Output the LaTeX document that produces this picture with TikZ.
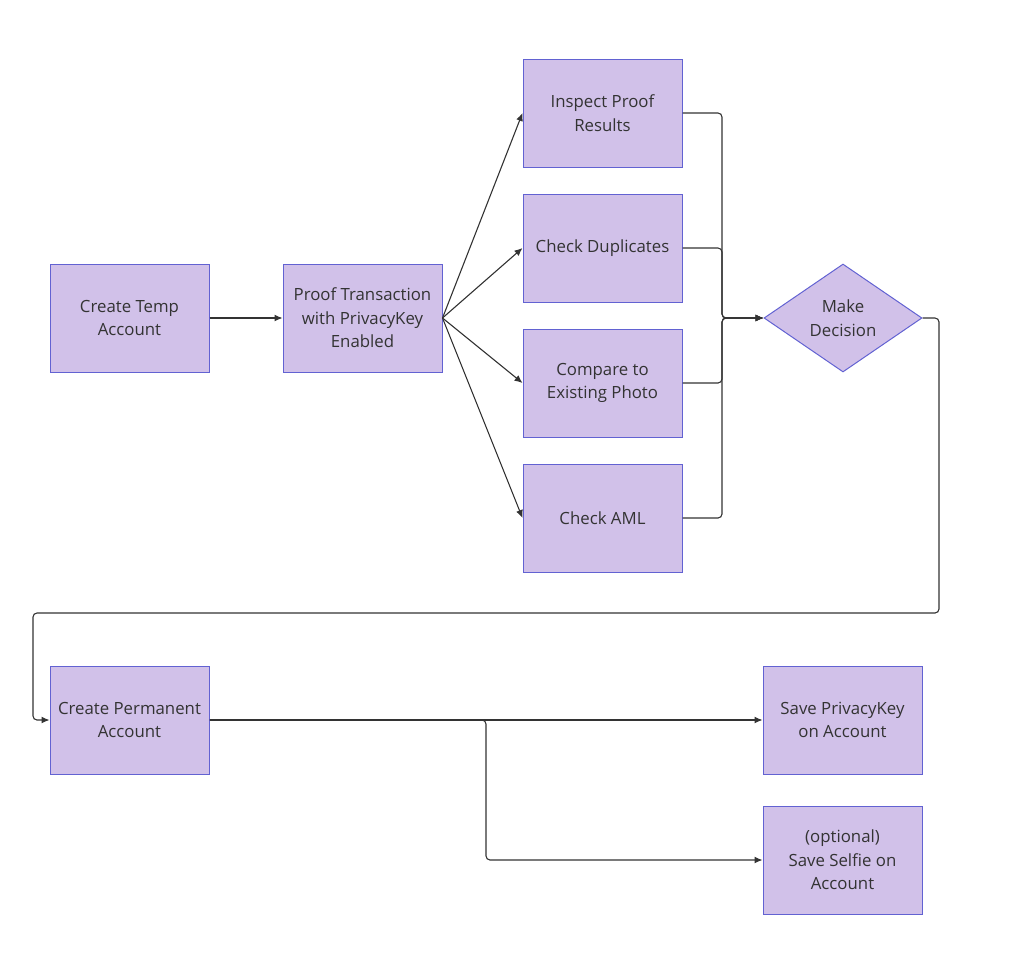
\documentclass[tikz,border=0pt]{standalone}
\usepackage{fontspec}
\setmainfont{Open Sans}
\usetikzlibrary{shapes.geometric,arrows.meta}
\definecolor{boxfill}{HTML}{D1C1E9}
\definecolor{boxline}{HTML}{6262D2}
\definecolor{conn}{HTML}{333333}
\definecolor{txt}{HTML}{333333}
\begin{document}
\begin{tikzpicture}[x=1pt,y=-1pt,
  box/.style={draw=boxline,fill=boxfill,line width=1pt,minimum width=159pt,minimum height=108pt,inner sep=0pt,align=center,text=txt,font=\fontsize{16.8}{23.5}\selectfont},
  decision/.style={diamond,draw=boxline,fill=boxfill,line width=1pt,minimum width=158pt,minimum height=108pt,inner sep=0pt,aspect=1.46,align=center,text=txt,font=\fontsize{16.8}{23.5}\selectfont},
  conn/.style={draw=conn,line width=1.1pt,rounded corners=4pt,-{Latex[length=8pt,width=7pt]}}]
\useasboundingbox (0,0) rectangle (1028,972);
\node[box] (temp) at (129.5,318) {Create Temp\\Account};
\node[box] (proof) at (362.5,318) {Proof Transaction\\with PrivacyKey\\Enabled};
\node[box] (inspect) at (602.5,113) {Inspect Proof\\Results};
\node[box] (dup) at (602.5,248) {Check Duplicates};
\node[box] (photo) at (602.5,383) {Compare to\\Existing Photo};
\node[box] (aml) at (602.5,518) {Check AML};
\node[decision] (dec) at (843,318) {Make\\Decision};
\node[box] (perm) at (129.5,720) {Create Permanent\\Account};
\node[box] (savekey) at (842.5,720) {Save PrivacyKey\\on Account};
\node[box] (selfie) at (842.5,860) {(optional)\\Save Selfie on\\Account};

\draw[conn] (temp.east) -- (proof.west);
\draw[conn] (proof.east) -- (inspect.west);
\draw[conn] (proof.east) -- (dup.west);
\draw[conn] (proof.east) -- (photo.west);
\draw[conn] (proof.east) -- (aml.west);
\draw[conn] (inspect.east) -- (722,113) -- (722,318) -- (dec.west);
\draw[conn] (dup.east) -- (722,248) -- (722,318) -- (dec.west);
\draw[conn] (photo.east) -- (722,383) -- (722,318) -- (dec.west);
\draw[conn] (aml.east) -- (722,518) -- (722,318) -- (dec.west);
\draw[conn] (dec.east) -- (939,318) -- (939,613) -- (33,613) -- (33,720) -- (perm.west);
\draw[conn] (perm.east) -- (savekey.west);
\draw[conn] (perm.east) -- (486,720) -- (486,860) -- (selfie.west);
\end{tikzpicture}
\end{document}
